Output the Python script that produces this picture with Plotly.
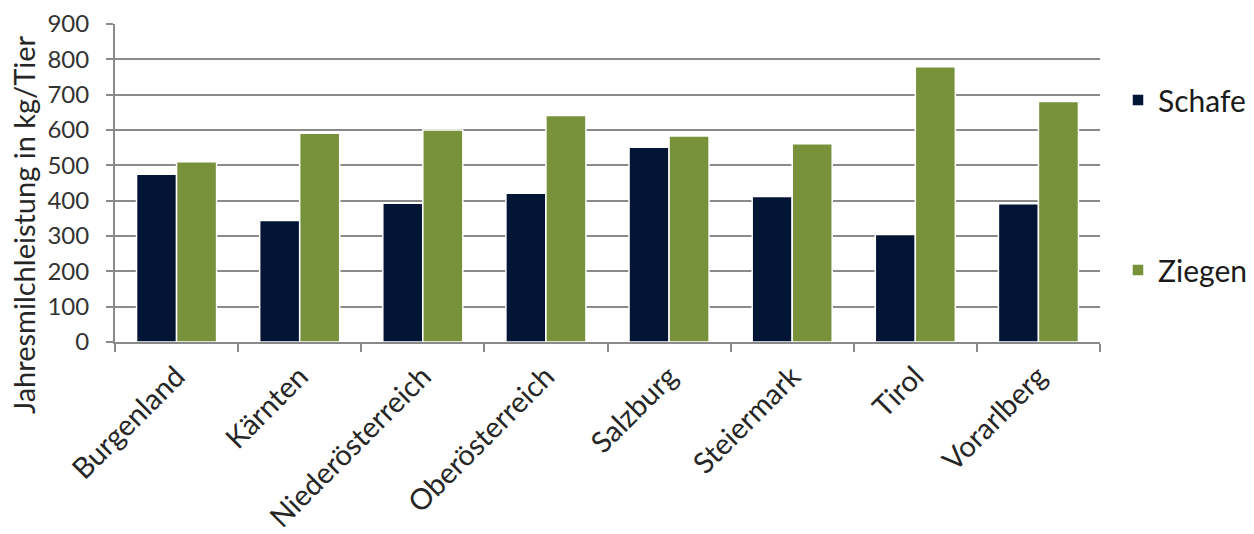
import plotly.graph_objects as go

# Annual milk yield per animal by Austrian state
bundeslaender = ["Burgenland", "Kärnten", "Niederösterreich", "Oberösterreich",
                 "Salzburg", "Steiermark", "Tirol", "Vorarlberg"]
schafe = [475, 344, 393, 421, 551, 412, 304, 391]
ziegen = [510, 591, 600, 641, 583, 561, 779, 681]
y_ticks = [0, 100, 200, 300, 400, 500, 600, 700, 800, 900]

FONT = "Lato"
GRID = "#8a8a8a"

fig = go.Figure()
fig.add_trace(go.Bar(
    x=bundeslaender, y=schafe, name="Schafe",
    marker=dict(color="#021535", line=dict(color="white", width=1.5)),
    legendgroup="a",
))
fig.add_trace(go.Bar(
    x=bundeslaender, y=ziegen, name="Ziegen",
    marker=dict(color="#77923b", line=dict(color="white", width=1.5)),
    legendgroup="b",
))

W, H = 1254, 534
ml, mr, mt, mb = 115, 154, 24, 192
pw, ph = W - ml - mr, H - mt - mb

fig.update_layout(
    width=W, height=H,
    margin=dict(l=ml, r=mr, t=mt, b=mb, pad=0, autoexpand=False),
    paper_bgcolor="white", plot_bgcolor="white",
    barmode="group", bargap=0.35, bargroupgap=0.0,
    font=dict(family=FONT, color="#262626"),
    showlegend=True,
    legend=dict(
        x=(1118 - ml) / pw, xanchor="left",
        y=1 - (74 - mt) / ph, yanchor="top",
        font=dict(size=30, color="#1a1a1a"),
        traceorder="grouped", tracegroupgap=128,
        itemwidth=30,
        bgcolor="rgba(0,0,0,0)", borderwidth=0,
    ),
    xaxis=dict(
        type="category",
        showgrid=False,
        showline=True, linecolor=GRID, linewidth=2,
        ticks="outside", tickson="boundaries", ticklen=8,
        tickcolor=GRID, tickwidth=2,
        tickangle=-45,
        tickfont=dict(size=29, color="#262626", family=FONT),
        ticklabelstandoff=4,
    ),
    yaxis=dict(
        range=[0, 900], tickvals=y_ticks,
        showgrid=True, gridcolor=GRID, gridwidth=2,
        showline=True, linecolor=GRID, linewidth=2,
        ticks="outside", ticklen=7, tickcolor=GRID, tickwidth=2,
        tickfont=dict(size=24, color="#333333", family=FONT),
        ticklabelstandoff=12,
        zeroline=False,
    ),
    annotations=[dict(
        text="Jahresmilchleistung in kg/Tier",
        textangle=-90,
        xref="paper", yref="paper",
        x=(23 - ml) / pw, y=(342 - 225) / ph,
        xanchor="center", yanchor="middle",
        showarrow=False,
        font=dict(size=29, color="#262626", family=FONT),
    )],
)

fig.write_html("out.html")
